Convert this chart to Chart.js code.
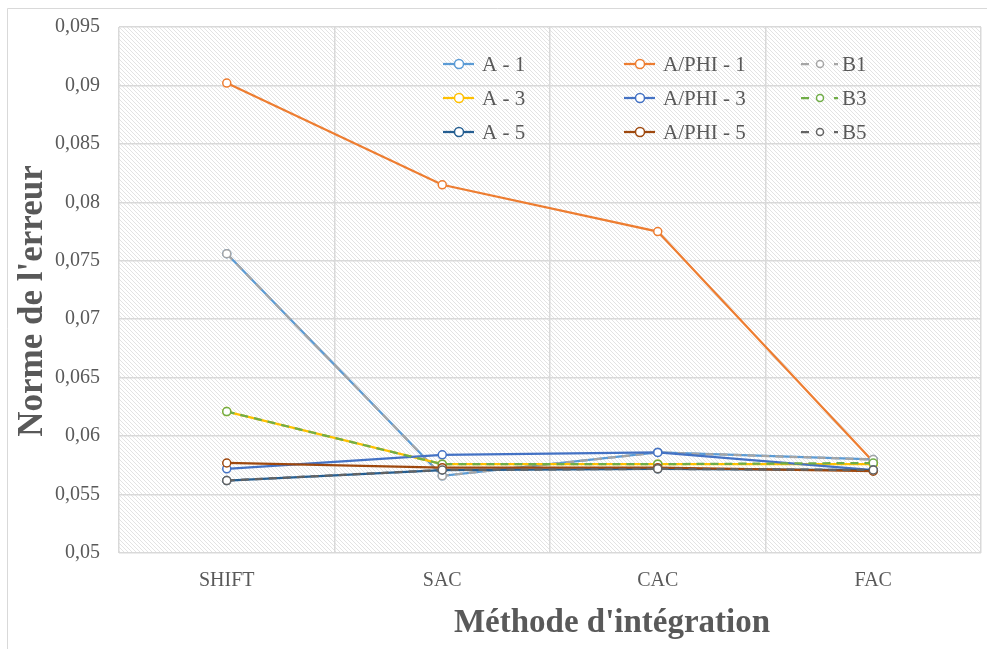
<!DOCTYPE html>
<html>
<head>
<meta charset="utf-8">
<script src="https://cdn.jsdelivr.net/npm/chart.js@4.4.0/dist/chart.umd.min.js"></script>
<style>
  html, body { margin: 0; padding: 0; background: #fff; }
  #wrap { position: relative; width: 987px; height: 649px; }
</style>
</head>
<body>
<div id="wrap"><canvas id="errChart"></canvas></div>
<script>
// ---- data ----
const categories = ["SHIFT", "SAC", "CAC", "FAC"];
const yTickValues = [0.05, 0.055, 0.06, 0.065, 0.07, 0.075, 0.08, 0.085, 0.09, 0.095];

const a1    = [0.0756, 0.0566, 0.0586, 0.0580];
const aphi1 = [0.0902, 0.0815, 0.0775, 0.0578];
const b1    = [0.0756, 0.0566, 0.0586, 0.0580];
const a3    = [0.0621, 0.0576, 0.0576, 0.0576];
const aphi3 = [0.0572, 0.0584, 0.0586, 0.0571];
const b3    = [0.0621, 0.0576, 0.0576, 0.0577];
const a5    = [0.0562, 0.0571, 0.0572, 0.0571];
const aphi5 = [0.0577, 0.0573, 0.0573, 0.0570];
const b5    = [0.0562, 0.0571, 0.0572, 0.0571];

const xTitle = "Méthode d'intégration";
const yTitle = "Norme de l'erreur";

const SERIF = "'Liberation Serif', 'Times New Roman', serif";
const TEXT_GREY = "#595959";
const GRID_GREY = "#d9d9d9";

// one dataset per serie, Excel-like markers (white filled circles)
function serie(label, data, color, dashed) {
  return {
    label: label,
    data: data,
    borderColor: color,
    backgroundColor: "#ffffff",
    borderWidth: 2.25,
    borderDash: dashed ? [8, 6] : [],
    pointRadius: 4,
    pointBorderWidth: 1.5,
    pointBackgroundColor: "#ffffff",
    pointBorderColor: color,
    tension: 0,
    fill: false,
  };
}

// order = Excel legend order (row by row)
const datasets = [
  serie("A - 1", a1, "#5b9bd5", false),
  serie("A/PHI - 1", aphi1, "#ed7d31", false),
  serie("B1", b1, "#a5a5a5", true),
  serie("A - 3", a3, "#ffc000", false),
  serie("A/PHI - 3", aphi3, "#4472c4", false),
  serie("B3", b3, "#70ad47", true),
  serie("A - 5", a5, "#255e91", false),
  serie("A/PHI - 5", aphi5, "#9e480e", false),
  serie("B5", b5, "#636363", true),
];
// later series are painted on top, like in Excel
datasets.forEach((d, i) => { d.order = datasets.length - i; });

// hatch pattern for the plot area (light downward diagonal)
function makeHatch(ctx) {
  const c = document.createElement("canvas");
  c.width = 4; c.height = 4;
  const g = c.getContext("2d");
  g.fillStyle = "#ffffff";
  g.fillRect(0, 0, 4, 4);
  g.fillStyle = "#e3e3e3";
  for (let i = 0; i < 4; i++) g.fillRect(i, i, 1, 1);
  return ctx.createPattern(c, "repeat");
}

const backgroundPlugin = {
  id: "background",
  beforeDraw(chart) {
    const { ctx, chartArea: a } = chart;
    ctx.save();
    ctx.fillStyle = "#ffffff";
    ctx.fillRect(0, 0, chart.width, chart.height);
    // outer frame (only top and left visible)
    ctx.strokeStyle = GRID_GREY;
    ctx.lineWidth = 1;
    ctx.beginPath();
    ctx.moveTo(7.5, chart.height);
    ctx.lineTo(7.5, 8.5);
    ctx.lineTo(chart.width, 8.5);
    ctx.stroke();
    ctx.fillStyle = makeHatch(ctx);
    ctx.fillRect(a.left, a.top, a.right - a.left, a.bottom - a.top);
    ctx.restore();
  },
};

// axis titles (x title is not centred on the plot in the original)
const titlesPlugin = {
  id: "titles",
  afterDraw(chart) {
    const ctx = chart.ctx;
    ctx.save();
    ctx.fillStyle = TEXT_GREY;
    ctx.textAlign = "center";
    ctx.textBaseline = "middle";
    ctx.font = "bold 33px " + SERIF;
    ctx.fillText(xTitle, 612, 623);
    ctx.font = "bold 35px " + SERIF;
    ctx.translate(33, 301);
    ctx.rotate(-Math.PI / 2);
    ctx.fillText(yTitle, 0, 0);
    ctx.restore();
  },
};

// legend inside the plot: 3 columns x 3 rows
const legendCols = [443, 624, 801];
const legendRows = [64, 98, 132];
const legendPlugin = {
  id: "gridLegend",
  afterDatasetsDraw(chart) {
    const ctx = chart.ctx;
    ctx.save();
    ctx.font = "21px " + SERIF;
    ctx.textBaseline = "middle";
    ctx.textAlign = "left";
    chart.data.datasets.forEach((ds, i) => {
      const x = legendCols[i % 3];
      const y = legendRows[Math.floor(i / 3)];
      const dashed = ds.borderDash && ds.borderDash.length;
      ctx.strokeStyle = ds.borderColor;
      ctx.lineWidth = 2.25;
      ctx.setLineDash([]);
      ctx.beginPath();
      let cx, r, tx;
      if (dashed) {
        ctx.moveTo(x, y); ctx.lineTo(x + 8, y);
        ctx.moveTo(x + 33, y); ctx.lineTo(x + 37, y);
        cx = x + 19; r = 3.5; tx = x + 41;
      } else {
        ctx.moveTo(x, y); ctx.lineTo(x + 31, y);
        cx = x + 16; r = 4.5; tx = x + 39;
      }
      ctx.stroke();
      ctx.beginPath();
      ctx.arc(cx, y, r, 0, Math.PI * 2);
      ctx.fillStyle = "#ffffff";
      ctx.fill();
      ctx.lineWidth = 1.5;
      ctx.stroke();
      ctx.fillStyle = TEXT_GREY;
      ctx.fillText(ds.label, tx, y + 1);
    });
    ctx.restore();
  },
};

const ctxLine = document.getElementById("errChart").getContext("2d");
let errChart = new Chart(ctxLine, {
  type: "line",
  data: { labels: categories, datasets: datasets },
  plugins: [backgroundPlugin, legendPlugin, titlesPlugin],
  options: {
    responsive: true,
    maintainAspectRatio: false,
    animation: false,
    layout: { padding: { left: 0, top: 27, right: 6, bottom: 0 } },
    scales: {
      x: {
        offset: true,
        afterFit: (s) => { s.height = 96; s.paddingLeft = 0; s.paddingRight = 0; },
        grid: { offset: true, color: GRID_GREY, lineWidth: 1.5, drawTicks: false },
        border: { display: false },
        ticks: { padding: 16, color: TEXT_GREY, font: { family: SERIF, size: 20 } },
      },
      y: {
        min: 0.05,
        max: 0.095,
        afterFit: (s) => { s.width = 119; s.paddingTop = 0; s.paddingBottom = 0; },
        afterBuildTicks: (s) => { s.ticks = yTickValues.map((v) => ({ value: v })); },
        grid: { color: GRID_GREY, lineWidth: 1.5, drawTicks: false },
        border: { display: false },
        ticks: {
          padding: 19,
          color: TEXT_GREY,
          font: { family: SERIF, size: 20 },
          callback: (v) => String(Math.round(v * 1000) / 1000).replace(".", ","),
        },
      },
    },
    plugins: {
      legend: { display: false },
      tooltip: { enabled: false },
    },
  },
});
</script>
</body>
</html>
